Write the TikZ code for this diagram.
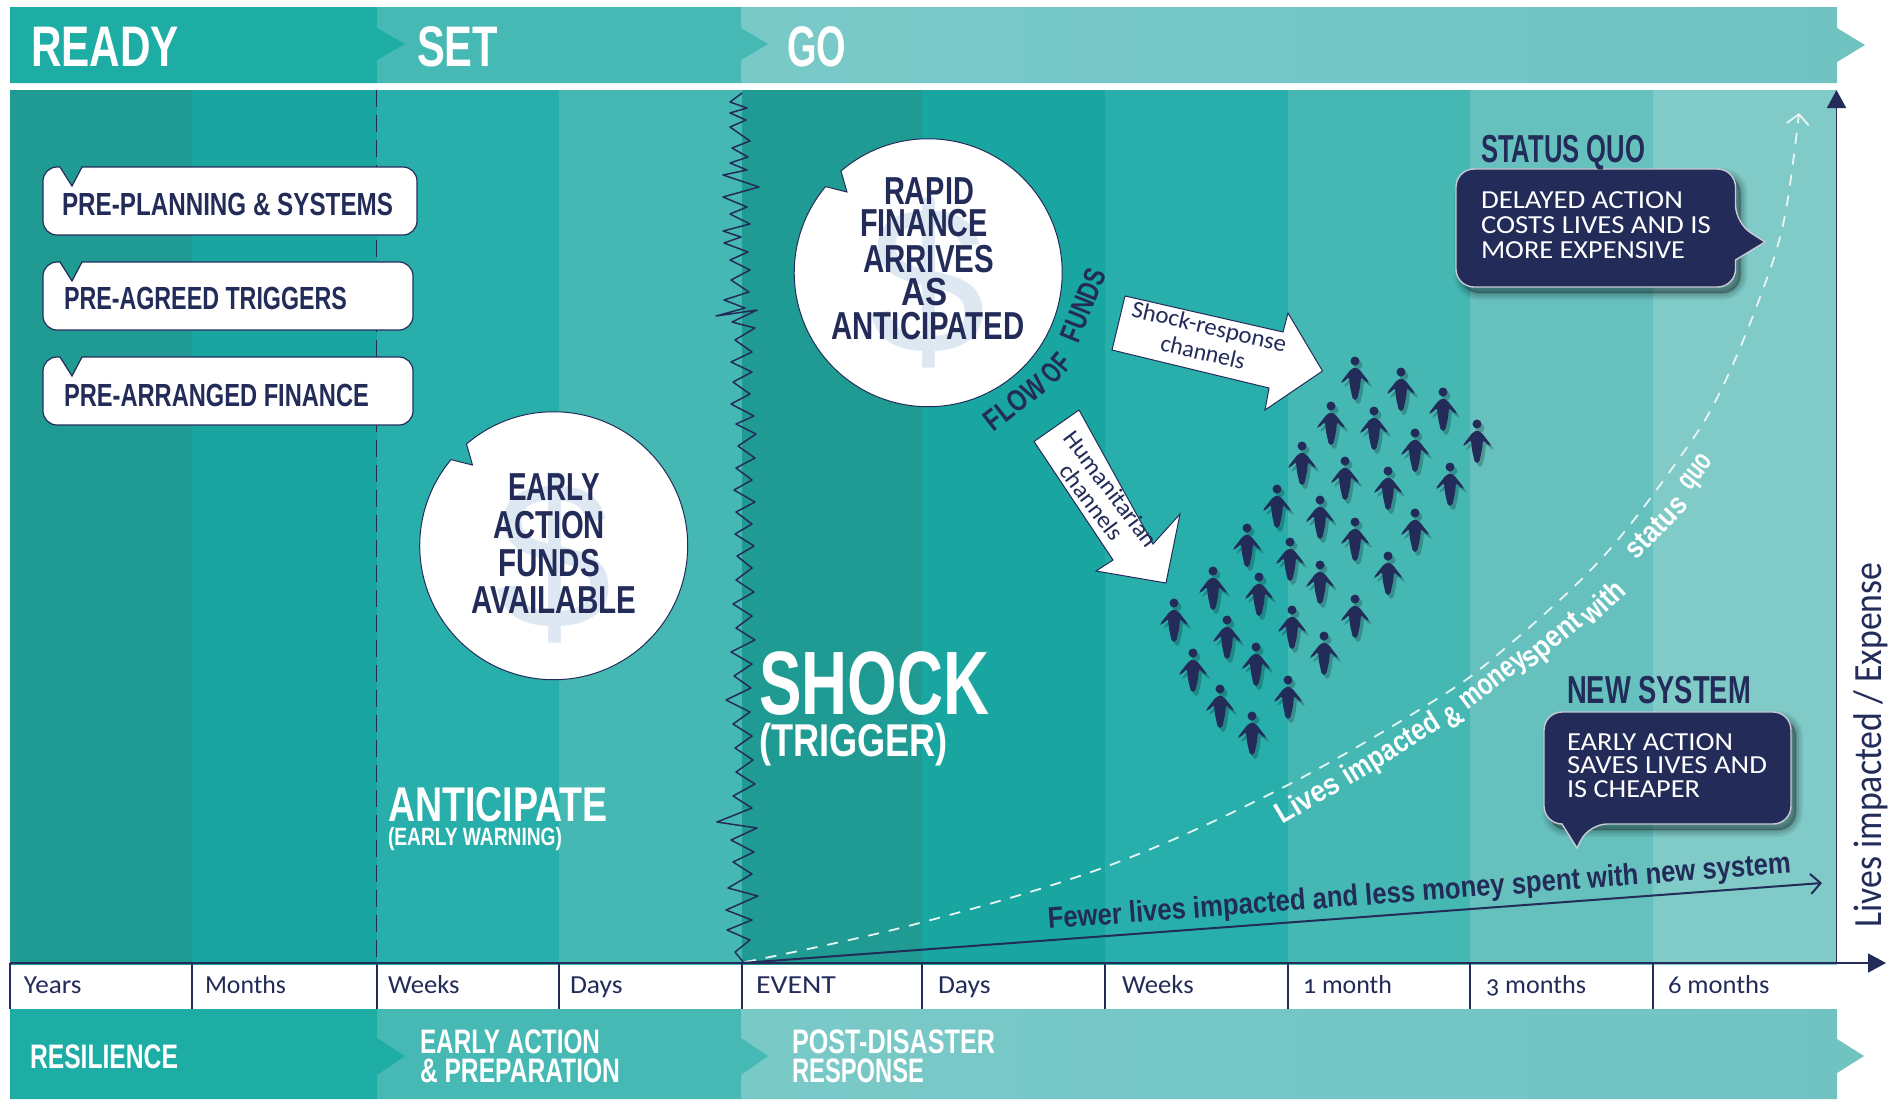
\documentclass[tikz,border=0pt]{standalone}
\usepackage{fontspec}
\usepackage{graphicx}
\usetikzlibrary{arrows.meta}
\setmainfont{Liberation Sans}
\newfontfamily\hdf{Liberation Sans}
\newfontfamily\cbf[Numbers=OldStyle]{Carlito}
\newsavebox\fitbox
% font switch, size in pt, width in px, text
\newcommand\fit[4]{\sbox\fitbox{#1\fontsize{#2}{#2}\selectfont #4}\pgfmathsetmacro\fitr{(#3)*0.5/\the\wd\fitbox}\scalebox{\fitr}[1]{\usebox\fitbox}}
\newcommand\hd{\hdf\bfseries}
\definecolor{nv}{HTML}{232C59}
\definecolor{cA}{HTML}{1F9B93}
\definecolor{cB}{HTML}{1AA6A0}
\definecolor{cC}{HTML}{29AFAB}
\definecolor{cD}{HTML}{45B8B4}
\definecolor{cE}{HTML}{66C1BE}
\definecolor{cF}{HTML}{80CBC8}
\definecolor{barA}{HTML}{1EADA5}
\definecolor{barB}{HTML}{47B9B5}
\definecolor{barC}{HTML}{79C9C7}
\definecolor{barD}{HTML}{6FC4C2}
\definecolor{dollar}{HTML}{DDE8F3}
\definecolor{curvec}{HTML}{E8F5F4}
\tikzset{
 lbl/.style={inner sep=0pt,outer sep=0pt,anchor=base west},
 clbl/.style={inner sep=0pt,outer sep=0pt,anchor=base},
 wt/.style={text=white},
 nt/.style={text=nv},
 tagbox/.style={fill=white,draw=nv,line width=0.6pt},
 disc/.style={fill=white,draw=nv,line width=0.5pt},
 callout/.style={fill=nv,draw=white!75!nv,line width=0.7pt},
 flowarrow/.style={fill=white,draw=nv,line width=0.5pt,line join=miter},
 tick/.style={draw=nv,line width=0.6pt},
 axisline/.style={draw=nv,line width=0.8pt,-{Triangle[length=9pt,width=9.5pt]}},
 person/.pic={
  \begin{scope}[shift={(3,4)},opacity=.22]
   \fill[black,rounded corners=1pt] (0,6.5) -- (4,8) -- (14,21) -- (12.5,22) -- (6,16) -- (5,26) -- (2,39) -- (-2,39) -- (-5,26) -- (-6,16) -- (-12.5,22) -- (-14,21) -- (-4,8) -- cycle;
   \fill[black] (0,0) circle[radius=2.25pt];
  \end{scope}
  \fill[nv,rounded corners=1pt] (0,6.5) -- (4,8) -- (14,21) -- (12.5,22) -- (6,16) -- (5,26) -- (2,39) -- (-2,39) -- (-5,26) -- (-6,16) -- (-12.5,22) -- (-14,21) -- (-4,8) -- cycle;
  \fill[nv] (0,0) circle[radius=2.25pt];
 }
}
\newcommand\tagshape[4]{% x1 y1 x2 y2
 \path[tagbox] (82,#2) [rounded corners=7pt] -- (#3,#2) -- (#3,#4) -- (#1,#4) -- (#1,#2) [sharp corners] -- (60,#2) -- (72,#2+19) -- cycle;}
\begin{document}
\begin{tikzpicture}[x=0.5pt,y=-0.5pt]
\useasboundingbox (0,0) rectangle (1900,1099);
\fill[white] (0,0) rectangle (1900,1099);
% top band
\shade[left color=barC,right color=barD] (741,7) -- (1837,7) -- (1837,28) -- (1865,45) -- (1837,62) -- (1837,83) -- (741,83) -- cycle;
\fill[barB] (377,7) -- (741,7) -- (741,28) -- (768,44) -- (741,60) -- (741,83) -- (377,83) -- cycle;
\fill[barA] (10,7) -- (377,7) -- (377,28) -- (405,44) -- (377,60) -- (377,83) -- (10,83) -- cycle;
\node[lbl,wt] (ready) at (31,66) {\fit{\hd}{28.6}{148}{READY}};
\node[lbl,wt] (set) at (417,66) {\fit{\hd}{28.6}{81}{SET}};
\node[lbl,wt] (go) at (787,66) {\fit{\hd}{28.6}{59}{GO}};
% panel columns
\fill[cA] (10,90) rectangle (192,965);
\fill[cB] (192,90) rectangle (377,965);
\fill[cC] (377,90) rectangle (559,965);
\fill[cD] (559,90) rectangle (742,965);
\fill[cA] (742,90) rectangle (922,965);
\fill[cB] (922,90) rectangle (1105,965);
\fill[cC] (1105,90) rectangle (1288,965);
\fill[cD] (1288,90) rectangle (1470,965);
\fill[cE] (1470,90) rectangle (1653,965);
\fill[cF] (1653,90) rectangle (1837,965);
% bottom band
\shade[left color=barC,right color=barD] (741,1009) -- (1837,1009) -- (1837,1039) -- (1864,1056) -- (1837,1073) -- (1837,1099) -- (741,1099) -- cycle;
\fill[barB] (377,1009) -- (741,1009) -- (741,1038) -- (768,1056) -- (741,1075) -- (741,1099) -- (377,1099) -- cycle;
\fill[barA] (10,1009) -- (377,1009) -- (377,1038) -- (405,1056) -- (377,1075) -- (377,1099) -- (10,1099) -- cycle;
\node[lbl,wt] (resil) at (30,1068) {\fit{\hd}{17}{148}{RESILIENCE}};
\node[lbl,wt] (ea1) at (420,1053) {\fit{\hd}{17}{180}{EARLY ACTION}};
\node[lbl,wt] (ea2) at (420,1082) {\fit{\hd}{17}{200}{\& PREPARATION}};
\node[lbl,wt] (pd1) at (792,1053) {\fit{\hd}{17}{203}{POST-DISASTER}};
\node[lbl,wt] (pd2) at (792,1082) {\fit{\hd}{17}{132}{RESPONSE}};
% dashed anticipate line
\coordinate (dashtop) at (376.5,90);
\coordinate (dashbot) at (376.5,963);
\draw[nv,line width=0.6pt,dash pattern=on 8.5pt off 4pt] (dashtop) -- (dashbot);
% tag boxes
\tagshape{43}{167}{417}{235}
\tagshape{43}{262}{413}{330}
\tagshape{43}{357}{413}{425}
\node[lbl,nt] (tag1) at (62,215) {\fit{\hd}{16}{331}{PRE-PLANNING \& SYSTEMS}};
\node[lbl,nt] (tag2) at (64,309) {\fit{\hd}{16}{283}{PRE-AGREED TRIGGERS}};
\node[lbl,nt] (tag3) at (64,406) {\fit{\hd}{16}{305}{PRE-ARRANGED FINANCE}};
% shock line
\draw[nv,line width=0.75pt,line join=round] (742,93) -- (730,102) -- (747,108) -- (730,113) -- (746,120) -- (730,127) -- (750,141) -- (732,148) -- (748,157) -- (730,163) -- (747,170) -- (723,175) -- (759,187) -- (723,197) -- (747,207) -- (730,214) -- (750,224) -- (723,231) -- (741,237) -- (724,243) -- (748,252) -- (730,260) -- (750,270) -- (731,280) -- (749,292) -- (724,300) -- (745,308) -- (716,316) -- (757,310) -- (732,322) -- (755,328) -- (735,340) -- (752,352) -- (731,362) -- (752,372) -- (733,382) -- (750,394) -- (731,404) -- (754,416) -- (736,424) -- (756,434) -- (738,446) -- (755,458) -- (736,468) -- (752,480) -- (734,490) -- (755,502) -- (736,512) -- (752,524) -- (735,534) -- (754,546) -- (737,556) -- (752,568) -- (736,580) -- (754,592) -- (733,604) -- (752,616) -- (736,628) -- (755,640) -- (731,652) -- (752,664) -- (734,676) -- (751,688) -- (726,700) -- (750,712) -- (733,724) -- (752,736) -- (735,748) -- (753,760) -- (736,772) -- (755,784) -- (733,796) -- (752,808) -- (717,822) -- (757,828) -- (731,840) -- (754,852) -- (733,862) -- (752,874) -- (728,888) -- (758,896) -- (726,910) -- (752,920) -- (727,930) -- (750,940) -- (735,952) -- (744,963);
% discs
\path[disc] (466.5,444) arc[start angle=130.6,end angle=-220,radius=67pt] -- (472.5,465) -- cycle;
\node[clbl,text=dollar] (d1) at (554,628) {\hdf\fontsize{105}{105}\selectfont \$};
\node[clbl,nt] (e1) at (554,500) {\fit{\hd}{19.5}{92}{EARLY}};
\node[clbl,nt] (e2) at (549,538) {\fit{\hd}{19.5}{112}{ACTION}};
\node[clbl,nt] (e3) at (549,576) {\fit{\hd}{19.5}{102}{FUNDS}};
\node[clbl,nt] (e4) at (554,613) {\fit{\hd}{19.5}{165}{AVAILABLE}};
\path[disc] (841,171) arc[start angle=130.6,end angle=-220,radius=67pt] -- (847,192) -- cycle;
\node[clbl,text=dollar] (d2) at (928,353) {\hdf\fontsize{105}{105}\selectfont \$};
\node[clbl,nt] (r1) at (929,204) {\fit{\hd}{19.5}{90}{RAPID}};
\node[clbl,nt] (r2) at (924,236) {\fit{\hd}{19.5}{128}{FINANCE}};
\node[clbl,nt] (r3) at (928.5,272) {\fit{\hd}{19.5}{131}{ARRIVES}};
\node[clbl,nt] (r4) at (924.5,305) {\fit{\hd}{19.5}{46}{AS}};
\node[clbl,nt] (r5) at (928,339) {\fit{\hd}{19.5}{193}{ANTICIPATED}};
% big white titles
\node[lbl,wt] (anti) at (388,821) {\fit{\hd}{24.4}{220}{ANTICIPATE}};
\node[lbl,wt] (warn) at (388,845) {\fit{\hd}{12.5}{174}{(EARLY WARNING)}};
\node[lbl,wt] (shock) at (759,714) {\fit{\hd}{45}{230}{SHOCK}};
\node[lbl,wt] (trig) at (759,756) {\fit{\hd}{23}{189}{(TRIGGER)}};
% flow of funds
\node[inner sep=0pt,rotate=38,nt] (fl1) at (1015,403) {\fit{\hd}{15}{70}{FLOW}};
\node[inner sep=0pt,rotate=50,nt] (fl2) at (1056,368) {\fit{\hd}{15}{28}{OF}};
\node[inner sep=0pt,rotate=68,nt] (fl3) at (1083,305) {\fit{\hd}{15}{76}{FUNDS}};
% arrows
\path[flowarrow] (1125,296) -- (1283,332) -- (1288,313) -- (1322.5,371) -- (1265,410) -- (1269,388) -- (1112,350) -- cycle;
\node[inner sep=0pt,rotate=-13,nt] (sr1) at (1209,328) {\fit{\cbf}{12}{158}{Shock-response}};
\node[inner sep=0pt,rotate=-13,nt] (sr2) at (1203,352) {\fit{\cbf}{12}{86}{channels}};
\path[flowarrow] (1079,410) -- (1153,544) -- (1180,514) -- (1166,583) -- (1096,571) -- (1113,560) -- (1034,441.5) -- cycle;
\node[inner sep=0pt,rotate=-53,nt] (hu1) at (1111,489) {\fit{\cbf}{12}{139}{Humanitarian}};
\node[inner sep=0pt,rotate=-53,nt] (hu2) at (1092,502) {\fit{\cbf}{12}{89}{channels}};
% people
\foreach \px/\py in {1355/361,1401/372,1443/392,1477/424,1331/406,1374/411,1415/433,1302/446,1345/461,1388/471,1450/467,1277/489,1320/500,1415/513,1355/522,1247/528,1290/542,1388/556,1320/565,1213/571,1259/577,1174/603,1227/620,1355/599,1292/610,1324/636,1193/653,1256/647,1288/680,1220/689,1252/716}
  \pic at (\px,\py) {person};
% axis and curves
\coordinate (orig) at (742,963);
\coordinate (left) at (10,963);
\coordinate (xend) at (1886,963);
\coordinate (yfoot) at (1836.5,963);
\coordinate (yend) at (1836.5,90);
\coordinate (newend) at (1822,883);
\draw[curvec,line width=0.9pt,dash pattern=on 5.5pt off 5pt,-{Straight Barb[length=5pt,width=11pt]}] plot[smooth,tension=.6] coordinates {(745,962) (912,925) (1105,867) (1278,790) (1432,702) (1503,650) (1602,558) (1683,453) (1721,390) (1759,300) (1784,220) (1799,113)};
\draw[nv,line width=1pt,-{Straight Barb[length=5pt,width=10pt]}] (orig) -- (newend);
\draw[axisline] (yfoot) -- (yend);
% time row
\draw[tick] (10,963) -- (10,1009);
\draw[tick] (192,963) -- (192,1009);
\draw[tick] (377,963) -- (377,1009);
\draw[tick] (559,963) -- (559,1009);
\draw[tick] (742,963) -- (742,1009);
\draw[tick] (922,963) -- (922,1009);
\draw[tick] (1105,963) -- (1105,1009);
\draw[tick] (1288,963) -- (1288,1009);
\draw[tick] (1470,963) -- (1470,1009);
\draw[tick] (1653,963) -- (1653,1009);
\draw[axisline] (left) -- (xend);
\node[lbl,nt] (t1) at (24,993) {\fit{\cbf}{13}{57.5}{Years}};
\node[lbl,nt] (t2) at (205,993) {\fit{\cbf}{13}{81}{Months}};
\node[lbl,nt] (t3) at (388,993) {\fit{\cbf}{13}{71.6}{Weeks}};
\node[lbl,nt] (t4) at (570,993) {\fit{\cbf}{13}{52.6}{Days}};
\node[lbl,nt] (t5) at (756,993) {\fit{\cbf}{13}{80}{EVENT}};
\node[lbl,nt] (t6) at (938,993) {\fit{\cbf}{13}{52.6}{Days}};
\node[lbl,nt] (t7) at (1122,993) {\fit{\cbf}{13}{71.6}{Weeks}};
\node[lbl,nt] (t8) at (1303,993) {\fit{\cbf}{13}{89}{1 month}};
\node[lbl,nt] (t9) at (1486,993) {\fit{\cbf}{13}{100}{3 months}};
\node[lbl,nt] (t10) at (1668,993) {\fit{\cbf}{13}{101.5}{6 months}};
% curve labels
\node[clbl,nt,rotate=4.3] (fewer) at (1420,901) {\fit{\hd}{15}{745}{Fewer lives impacted and less money spent with new system}};
\node[inner sep=0pt,rotate=31,wt] (w1) at (1307,798) {\fit{\hd}{15}{69}{Lives}};
\node[inner sep=0pt,rotate=32,wt] (w2) at (1392,750) {\fit{\hd}{15}{110}{impacted}};
\node[inner sep=0pt,rotate=34,wt] (w3) at (1453,717) {\fit{\hd}{15}{18}{\&}};
\node[inner sep=0pt,rotate=37,wt] (w4) at (1495,683) {\fit{\hd}{15}{77}{money}};
\node[inner sep=0pt,rotate=40,wt] (w5) at (1553,642) {\fit{\hd}{15}{70}{spent}};
\node[inner sep=0pt,rotate=43,wt] (w6) at (1602,602) {\fit{\hd}{15}{50}{with}};
\node[inner sep=0pt,rotate=46,wt] (w7) at (1656,527) {\fit{\hd}{15}{75}{status}};
\node[inner sep=0pt,rotate=52,wt] (w8) at (1698,473) {\fit{\hd}{15}{38}{quo}};
\node[inner sep=0pt,rotate=90,anchor=base,nt] (ylab) at (1881,745) {\fit{\cbf}{20}{365}{Lives impacted / Expense}};
% callouts
\foreach \w/\o in {7pt/.06,5pt/.07,3pt/.08,1pt/.1} {
 \draw[black,opacity=\o,line width=\w,fill=black,xshift=2.5pt,yshift=-3pt,rounded corners=9pt] (1456,169) -- (1735.5,169) -- (1735.5,287) -- (1456,287) -- cycle;
 \draw[black,opacity=\o,line width=\w,fill=black,xshift=2.5pt,yshift=-3pt,rounded corners=9pt] (1544,712) -- (1791,712) -- (1791,824) -- (1544,824) -- cycle;
}
\path[callout] (1456,228) [rounded corners=9pt] -- (1456,169) -- (1735.5,169) -- (1735.5,223) [sharp corners] -- (1765,242) -- (1735.5,260) [rounded corners=9pt] -- (1735.5,287) -- (1456,287) -- cycle;
\path[callout] (1544,770) [rounded corners=9pt] -- (1544,712) -- (1791,712) -- (1791,824) -- (1589,824) [sharp corners] -- (1577,848) -- (1562,824) [rounded corners=9pt] -- (1544,824) -- cycle;
\node[lbl,nt] (sq) at (1481,162) {\fit{\hd}{19.5}{164}{STATUS QUO}};
\node[lbl,wt] (s1) at (1481,208) {\fit{\cbf}{13}{202}{DELAYED ACTION}};
\node[lbl,wt] (s2) at (1481,233) {\fit{\cbf}{13}{230}{COSTS LIVES AND IS}};
\node[lbl,wt] (s3) at (1481,258) {\fit{\cbf}{13}{204}{MORE EXPENSIVE}};
\node[lbl,nt] (ns) at (1567,703) {\fit{\hd}{19.5}{184}{NEW SYSTEM}};
\node[lbl,wt] (n1) at (1567,750) {\fit{\cbf}{13}{166}{EARLY ACTION}};
\node[lbl,wt] (n2) at (1567,773) {\fit{\cbf}{13}{200}{SAVES LIVES AND}};
\node[lbl,wt] (n3) at (1567,797) {\fit{\cbf}{13}{133}{IS CHEAPER}};
\end{tikzpicture}
\end{document}
